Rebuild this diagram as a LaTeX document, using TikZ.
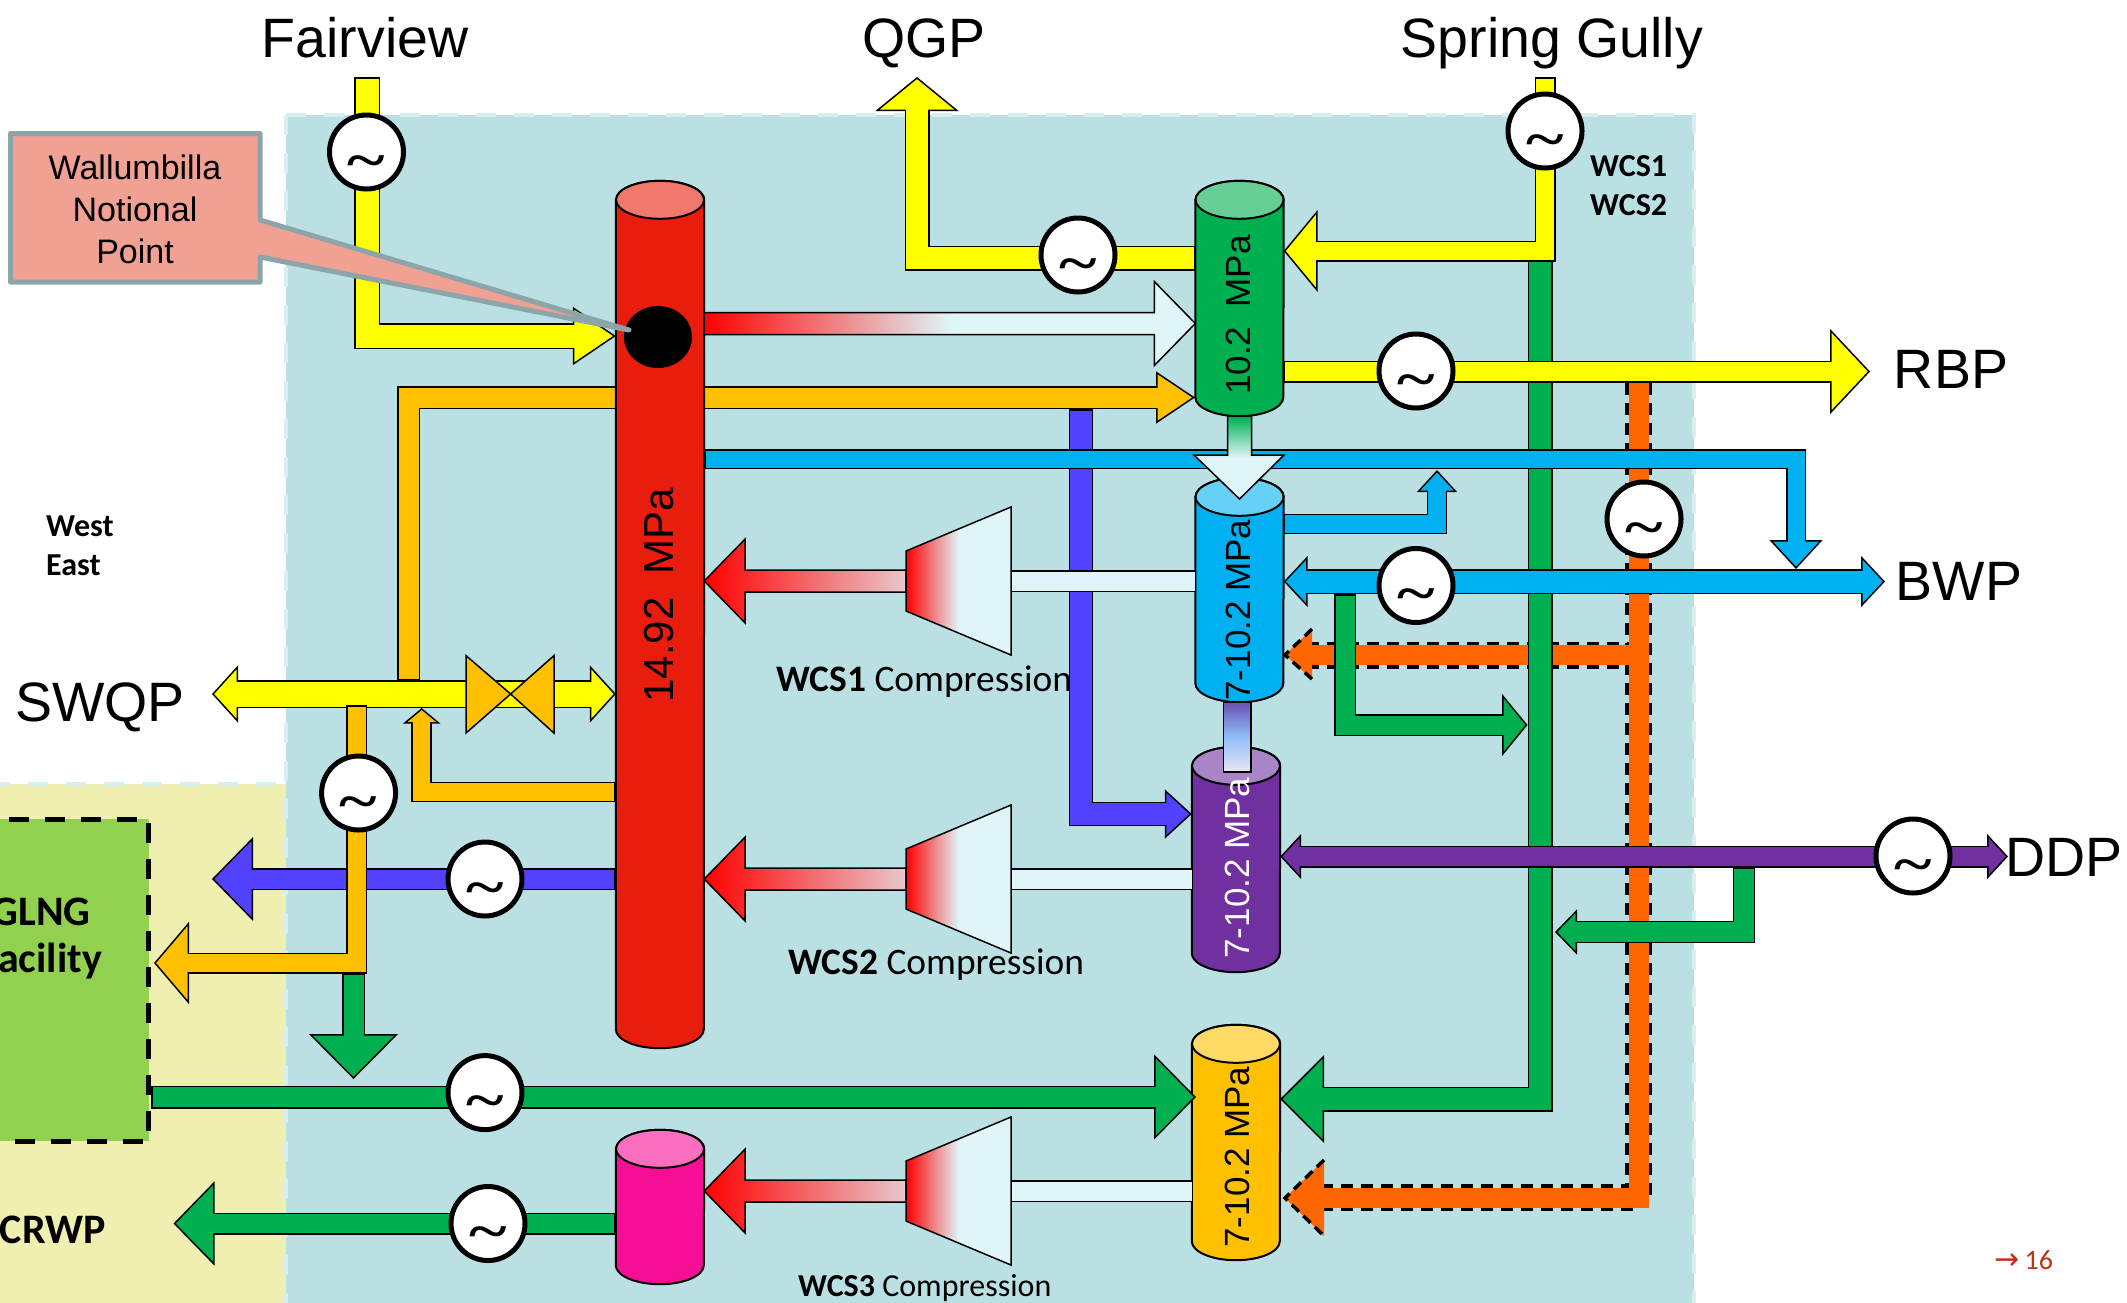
\documentclass[tikz,border=0pt]{standalone}
\usepackage{fontspec}
\setmainfont{Liberation Sans}
\newfontfamily\calibri{Carlito}
\newfontfamily\tildefont{Liberation Serif}
\newfontfamily\arrowfont{DejaVu Sans}
\usetikzlibrary{arrows.meta,calc,shapes.geometric}

\definecolor{bgblue}{HTML}{BBE0E3}
\definecolor{bgyellow}{HTML}{EEEFB0}
\definecolor{bgdash}{HTML}{D8EFF2}
\definecolor{boxgreen}{HTML}{92D050}
\definecolor{gasyellow}{HTML}{FFFF00}
\definecolor{gasgold}{HTML}{FFC000}
\definecolor{gasgreen}{HTML}{00B050}
\definecolor{gasblue}{HTML}{00B0F0}
\definecolor{gasindigo}{HTML}{5242FF}
\definecolor{gaspurple}{HTML}{7030A0}
\definecolor{gasorange}{HTML}{FF6600}
\definecolor{gasred}{HTML}{E91D0E}
\definecolor{gasmagenta}{HTML}{F70E97}
\definecolor{capred}{HTML}{F2776D}
\definecolor{capgreen}{HTML}{66CF96}
\definecolor{capblue}{HTML}{66D0F6}
\definecolor{cappurple}{HTML}{A984C6}
\definecolor{capgold}{HTML}{FFD966}
\definecolor{capmagenta}{HTML}{FA6EC0}
\definecolor{palegas}{HTML}{E0F5F8}
\definecolor{pinkgas}{HTML}{E8C8CC}
\definecolor{shafttop}{HTML}{6A50B5}
\definecolor{shaftmid}{HTML}{8FC0F8}
\definecolor{shaftend}{HTML}{EDE5F5}
\definecolor{calloutfill}{HTML}{F1A094}
\definecolor{calloutline}{HTML}{8CA5A8}
\definecolor{pagered}{HTML}{C0311A}

\pgfdeclarehorizontalshading{redpink}{100bp}{color(0bp)=(red); color(25bp)=(red); color(75bp)=(pinkgas); color(100bp)=(pinkgas)}
\pgfdeclarehorizontalshading{redpale}{100bp}{color(0bp)=(red); color(25bp)=(red); color(50bp)=(palegas); color(100bp)=(palegas)}
\pgfdeclareverticalshading{greenpale}{100bp}{color(0bp)=(palegas); color(50bp)=(palegas); color(75bp)=(gasgreen); color(100bp)=(gasgreen)}

\tikzset{
  tankbody/.style={minimum width=88pt,inner sep=0pt},
  tankline/.style={draw,line width=2pt},
  tilde/.style={circle,draw,fill=white,line width=5pt,minimum size=74pt,inner sep=0pt,
    font=\fontsize{72}{72}\selectfont\tildefont\bfseries},
  bigtext/.style={anchor=base,font=\fontsize{55.5}{60}\selectfont},
  tanktext/.style={rotate=90,font=\fontsize{35}{40}\selectfont},
  boldtext/.style={anchor=west,inner sep=0pt,font=\fontsize{32}{36}\selectfont\calibri\bfseries},
  wcstext/.style={anchor=west,inner sep=0pt,font=\fontsize{37.4}{40}\selectfont\calibri},
  gradline/.style={draw,line width=1.5pt,shade},
}

\newcommand{\tildemark}{\raisebox{-26pt}[0pt][0pt]{\scalebox{1}[0.75]{\textasciitilde}}}
% name, x, y, height, body colour, cap colour
\newcommand{\tank}[6]{%
  \node (#1) [tankbody,minimum height=#4pt] at (#2,#3) {};
  \draw[tankline,fill=#5] ($(#1.north west)+(0,19)$) -- ($(#1.south west)+(0,-19)$)
    arc[start angle=180,end angle=360,x radius=44pt,y radius=19pt] -- ($(#1.north east)+(0,19)$)
    arc[start angle=0,end angle=180,x radius=44pt,y radius=19pt] -- cycle;
  \draw[tankline,fill=#6] ($(#1.north)+(0,19)$) ellipse [x radius=44pt,y radius=19pt];
}
% colour, width, head width, head length, path
\newcommand{\pipearrow}[5]{%
  \draw[line width=#2pt,line join=miter,-{Triangle[length=#4pt,width=#3pt,line width=1.5pt,fill=#1]}] #5;
  \draw[line width=#2pt-3pt,draw=#1,shorten >=#4pt-2pt,shorten <=1.5pt] #5;
}
\newcommand{\pipeboth}[5]{%
  \draw[line width=#2pt,{Triangle[length=#4pt,width=#3pt,line width=1.5pt,fill=#1]}-{Triangle[length=#4pt,width=#3pt,line width=1.5pt,fill=#1]}] #5;
  \draw[line width=#2pt-3pt,draw=#1,shorten >=#4pt-2pt,shorten <=#4pt-2pt] #5;
}
\newcommand{\pipeplain}[3]{%
  \draw[line width=#2pt] #3;
  \draw[line width=#2pt-3pt,draw=#1] #3;
}
% shading, tip, tail, signed head length, half width, half head width
\newcommand{\gradarrow}[6]{%
  \draw[gradline,shading=#1] (#2) -- ++(#4,-#6) -- ++(0,#6-#5) -- ($(#3)+(0,-#5)$) -- ($(#3)+(0,#5)$)
    -- ($(#2)+(#4,#5)$) -- ($(#2)+(#4,#6)$) -- cycle;
}

\begin{document}
\begin{tikzpicture}[x=1pt,y=-1pt]
\useasboundingbox (0,0) rectangle (2127,1302);
% regions
\fill[bgyellow] (-10,784) rectangle (286,1320);
\draw[bgdash,line width=4pt,dash pattern=on 20pt off 18pt] (-10,784) -- (286,784);
\draw[fill=bgblue,draw=bgdash,line width=4pt,dash pattern=on 20pt off 18pt] (286,115) rectangle (1694,1320);
\node (glng) [draw,fill=boxgreen,line width=5pt,dash pattern=on 20pt off 16pt,minimum width=170pt,minimum height=322pt,anchor=east] at (151,980) {};
\node (glngtext) [align=center,font=\fontsize{42}{47}\selectfont\calibri\bfseries] at (41,939) {GLNG\\Facility};
\node (crwp) [anchor=east,inner sep=0pt,font=\fontsize{42}{47}\selectfont\calibri\bfseries] at (106,1230) {CRWP};

% gold line runs behind the red tank
\coordinate (goldin) at (408.5,680);
\coordinate (goldout) at (1195,397.5);
\pipearrow{gasgold}{23}{52}{39}{(goldin) |- (goldout)}

% tanks
\tank{red}{660}{614.5}{867}{gasred}{capred}
\tank{green}{1239.5}{298.5}{235}{gasgreen}{capgreen}
\tank{blue}{1239.5}{590}{224}{gasblue}{capblue}
\tank{purple}{1236}{859.5}{225}{gaspurple}{cappurple}
\tank{gold}{1236}{1142.5}{235}{gasgold}{capgold}
\tank{magenta}{660}{1207}{154}{gasmagenta}{capmagenta}

\coordinate (fvin) at (367,77);
\coordinate (qgpout) at (917,77);
\coordinate (sgin) at (1545,77);
\coordinate (rbpout) at (1870,371.5);
\coordinate (indin) at (1081,409);
\coordinate (bwptop) at (1796,569);
\coordinate (bwpout) at (1885,581.5);
\coordinate (stubout) at (1437,470);
\coordinate (brin) at (1345,594);
\coordinate (brout) at (1527.5,725);
\coordinate (gullyin) at (1540,255);
\coordinate (ddpout) at (2008,856.5);
\coordinate (ddpin) at (1744,867);
\coordinate (ddpbr) at (1555,932);
\coordinate (crwpout) at (173.5,1223.5);
\coordinate (swqpout) at (212,694);
\coordinate (lngblue) at (212,879);
\coordinate (feedtop) at (421.7,708);
\coordinate (lngtop) at (356.5,705);
\coordinate (lngfeed) at (154,963);
\coordinate (drainin) at (353.5,973);
\coordinate (drainout) at (353.5,1079);
\coordinate (mainout) at (1196,1097);
\coordinate (orangetop) at (1638.5,383);
\coordinate (orangemid) at (1638.5,655);
\coordinate (orangeb1) at (1312,655);
\coordinate (orangeb2) at (1324,1197.5);
\coordinate (blueinlet) at (1239.5,499);
\coordinate (purpin) at (1237,772);

% orange backup line, heads drawn by hand for the dashes
\draw[line width=27pt,dash pattern=on 12pt off 8pt] (orangetop) |- (orangeb2) (orangemid) -- (orangeb1);
\draw[line width=20pt,gasorange] (orangetop) |- (orangeb2) (orangemid) -- (orangeb1);
\draw[fill=gasorange,line width=3.5pt,dash pattern=on 10pt off 6pt] (1312,629) -- (1285,655) -- (1312,679);
\draw[fill=gasorange,line width=3.5pt,dash pattern=on 10pt off 6pt] (1324,1160) -- (1285,1198) -- (1324,1236);

\pipearrow{gasgreen}{25}{88}{44}{(gullyin) |- (gold.east |- 0,1099)}
\pipearrow{gasyellow}{26}{58}{43}{(fvin) |- (red.west |- 0,336)}
\pipearrow{gasyellow}{25}{83}{34}{(green.west |- 0,258) -| (qgpout)}
\pipearrow{gasyellow}{21}{82}{34}{(sgin) |- (green.east |- 0,251)}
\pipearrow{gasyellow}{22}{85}{40}{(green.east |- 0,371.5) -- (rbpout)}
\gradarrow{redpale}{green.west |- 0,323.5}{red.east |- 0,323.5}{-41}{11}{42}
\pipearrow{gasindigo}{24.5}{49}{27}{(indin) |- (purple.west |- 0,814)}
\pipearrow{gasblue}{20}{53}{29}{(red.east |- 0,459) -| (bwptop)}
\pipeboth{gasblue}{25}{51}{24}{(blue.east |- 0,581.5) -- (bwpout)}
\pipearrow{gasblue}{20.5}{40}{22}{(blue.east |- 0,524) -| (stubout)}
\pipearrow{gasgreen}{22}{62}{25.5}{(brin) |- (brout)}
\pipearrow{gasgreen}{23}{85}{42}{(glng.east |- 0,1097) -- (mainout)}
\pipeboth{gaspurple}{22}{45}{21}{(purple.east |- 0,856.5) -- (ddpout)}
\pipearrow{gasgreen}{22.5}{45}{22}{(ddpin) |- (ddpbr)}
\pipearrow{gasgreen}{22}{84}{41}{(magenta.west |- 0,1223.5) -- (crwpout)}
\pipeboth{gasyellow}{28}{57}{26}{(swqpout) -- (red.west |- 0,694)}
\pipearrow{gasindigo}{22}{83.5}{41}{(red.west |- 0,879) -- (lngblue)}
\pipearrow{gasgold}{20.5}{37}{15.5}{(red.west |- 0,792) -| (feedtop)}
\pipearrow{gasgreen}{23}{89}{45}{(drainin) -- (drainout)}
\pipearrow{gasgold}{21}{82}{35}{(lngtop) |- (lngfeed)}

% valve
\draw[fill=gasgold,line width=1.5pt] (466,655.6) -- (466,733) -- (510.6,694) -- cycle;
\draw[fill=gasgold,line width=1.5pt] (554,655.6) -- (554,733) -- (510.6,694) -- cycle;

% compressors
\foreach \nm/\cy/\hp/\lp in {wcs1/581/red/blue,wcs2/879/red/purple,wcs3/1191/magenta/gold}{
  \coordinate (\nm-in) at (1011,\cy);
  \coordinate (\nm-out) at (906,\cy);
  \pipeplain{palegas}{22}{(\lp.west |- \nm-in) -- (\nm-in)}
  \gradarrow{redpink}{\hp.east |- \nm-out}{\nm-out}{41}{11}{42}
  \draw[gradline,shading=redpale] (906,\cy-30) -- (1011,\cy-74) -- (1011,\cy+74) -- (906,\cy+30) -- cycle;
}

% transfers between tanks
\draw[gradline,shading=greenpale] ($(green.south)+(-12,0)$) -- ($(green.south)+(12,0)$) -- (1251.5,455) -- (1284,455) -- (blueinlet) -- (1194,455) -- (1227.5,455) -- cycle;
\draw[line width=1.5pt,top color=shafttop,bottom color=shaftend,middle color=shaftmid] ($(blue.south)+(-16,0)$) rectangle ($(purpin)+(14,0)$);

\node (dot) [ellipse,fill=black,minimum width=68pt,minimum height=62pt,inner sep=0pt] at (658,337) {};

% tank labels
\node (redtext) [tanktext,font=\fontsize{42}{46}\selectfont] at (659,595) {14.92~~MPa};
\node (greentext) [tanktext] at (1238,315) {10.2~~MPa};
\node (bluetext) [tanktext] at (1238,610) {7-10.2 MPa};
\node (purpletext) [tanktext,white] at (1237,868) {7-10.2 MPa};
\node (goldtext) [tanktext] at (1237,1157) {7-10.2 MPa};

% meters
\node (m1) [tilde] at (366.5,152) {\tildemark};
\node (m2) [tilde] at (1078,255) {\tildemark};
\node (m3) [tilde] at (1545,131) {\tildemark};
\node (m4) [tilde] at (1416,371) {\tildemark};
\node (m5) [tilde] at (1644,519) {\tildemark};
\node (m6) [tilde] at (1416,585.5) {\tildemark};
\node (m7) [tilde] at (358.6,793) {\tildemark};
\node (m8) [tilde] at (485,879) {\tildemark};
\node (m9) [tilde] at (485,1092.6) {\tildemark};
\node (m10) [tilde] at (488,1223.5) {\tildemark};
\node (m11) [tilde] at (1913,856) {\tildemark};

% callout
\draw[fill=calloutfill,draw=calloutline,line width=5pt,line join=round] (10.5,133.5) -- (260,133.5) -- (260,220) -- (629,330) -- (260,257) -- (260,282) -- (10.5,282) -- cycle;
\node (wnp) [align=center,font=\fontsize{34}{41.7}\selectfont] at (135,209.5) {Wallumbilla\\Notional\\Point};

% labels
\node (fairview) [bigtext] at (365,57) {Fairview};
\node (qgp) [bigtext] at (924,57) {QGP};
\node (springgully) [bigtext] at (1552,57) {Spring Gully};
\node (rbp) [bigtext] at (1951,388) {RBP};
\node (bwp) [bigtext] at (1959,600) {BWP};
\node (ddp) [bigtext] at (2064,876) {DDP};
\node (swqp) [bigtext] at (100,721) {SWQP};
\node (wcsa) [boldtext] at (1590,166) {WCS1};
\node (wcsb) [boldtext] at (1590,205) {WCS2};
\node (west) [boldtext] at (46,526) {West};
\node (east) [boldtext] at (46,565) {East};
\node (wcsonetext) [wcstext] at (776,682) {\textbf{WCS1} Compression};
\node (wcstwotext) [wcstext] at (788,965) {\textbf{WCS2} Compression};
\node (wcsthreetext) [wcstext,font=\fontsize{32}{36}\selectfont\calibri] at (798,1288) {\textbf{WCS3} Compression};
\node (pageref) [pagered,font=\fontsize{28}{30}\selectfont\calibri] at (2024,1260) {{\arrowfont\fontsize{30}{30}\selectfont→}\,16};
\end{tikzpicture}
\end{document}
